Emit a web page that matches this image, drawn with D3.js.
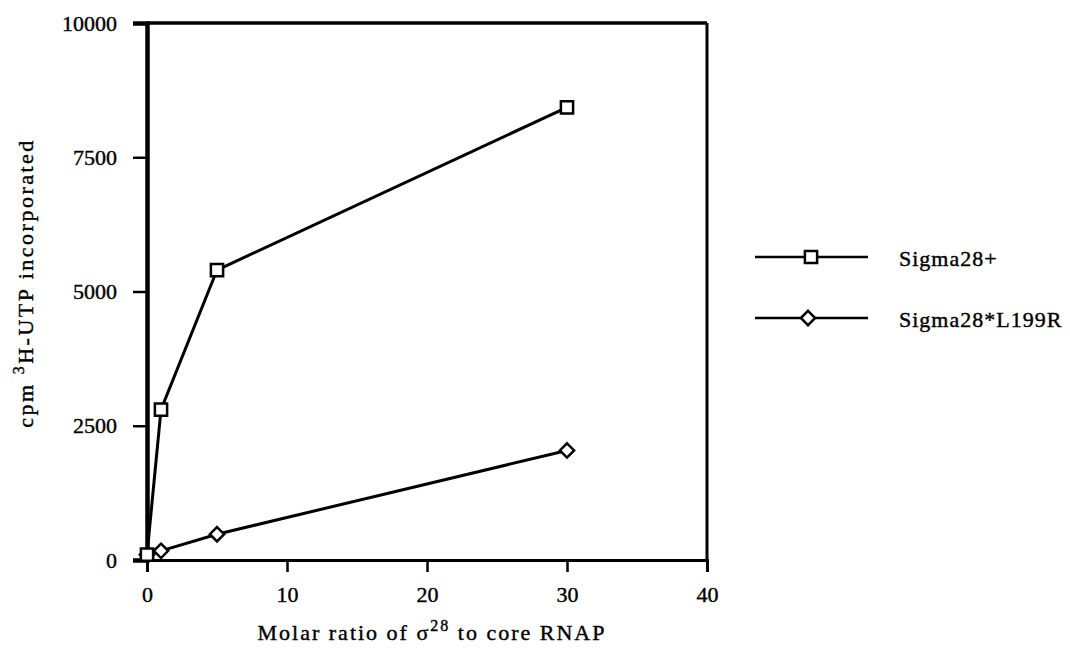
<!DOCTYPE html>
<html lang="en">
<head>
<meta charset="UTF-8">
<title>Sigma28 transcription</title>
<script src="https://cdn.jsdelivr.net/npm/d3@7"></script>
<style>
    body {margin: 0; background: #fff;}
    svg text {font-family: "Liberation Serif", "Times New Roman", serif; fill: #000; stroke: #000; stroke-width: 0.4px;}
</style>
</head>
<body>
<div id="graf"></div>
<script>
    // podatki odčitani s slike
    let ratio = [0, 1, 5, 30];
    let sigmaPlus = [100, 2800, 5400, 8430];
    let sigmaL199R = [100, 170, 480, 2040];
    let xTicks = [0, 10, 20, 30, 40];
    let yTicks = [0, 2500, 5000, 7500, 10000];
    let seriesNames = ["Sigma28+", "Sigma28*L199R"];

    let margin = {top: 23, right: 363, bottom: 90, left: 147},
        width = 1070 - margin.left - margin.right,
        height = 650 - margin.top - margin.bottom;

    let svg = d3.select("#graf")
        .append("svg")
        .attr("width", 1070)
        .attr("height", 650)
        .append("g")
        .attr("transform", "translate(" + margin.left + "," + margin.top + ")");

    let x = d3.scaleLinear().domain([0, 40]).range([0, width]);
    let y = d3.scaleLinear().domain([0, 10000]).range([height, 0]);

    // X os
    let xAxis = svg.append("g")
        .attr("transform", "translate(0," + height + ")")
        .call(d3.axisBottom(x).tickValues(xTicks).tickSize(12).tickPadding(14).tickFormat(d3.format("d")));
    xAxis.select(".domain").attr("stroke-width", 3);
    xAxis.selectAll(".tick line").attr("stroke-width", 2.5);
    xAxis.selectAll("text").attr("font-size", 22).attr("font-family", "Liberation Serif");

    // Y os
    let yAxis = svg.append("g")
        .call(d3.axisLeft(y).tickValues(yTicks).tickSize(14).tickPadding(16).tickFormat(d3.format("d")));
    yAxis.select(".domain").attr("stroke-width", 4.5);
    yAxis.selectAll(".tick line").attr("stroke-width", 2.5);
    yAxis.selectAll("text").attr("font-size", 22).attr("font-family", "Liberation Serif");

    // okvir zgoraj in desno
    svg.append("line")
        .attr("x1", x(0)).attr("x2", x(40))
        .attr("y1", y(10000)).attr("y2", y(10000))
        .attr("stroke", "#000").attr("stroke-width", 3.5);
    svg.append("line")
        .attr("x1", x(40)).attr("x2", x(40))
        .attr("y1", y(10000)).attr("y2", y(0))
        .attr("stroke", "#000").attr("stroke-width", 3);

    let line = d3.line()
        .x(function(d) { return x(d[0]); })
        .y(function(d) { return y(d[1]); });

    let dataPlus = ratio.map(function(r, i) { return [r, sigmaPlus[i]]; });
    let dataL199R = ratio.map(function(r, i) { return [r, sigmaL199R[i]]; });

    svg.append("path").datum(dataL199R)
        .attr("fill", "none").attr("stroke", "#000").attr("stroke-width", 3)
        .attr("d", line);
    svg.append("path").datum(dataPlus)
        .attr("fill", "none").attr("stroke", "#000").attr("stroke-width", 3)
        .attr("d", line);

    let diamond = d3.symbol().type(d3.symbolDiamond2).size(130);
    let square = d3.symbol().type(d3.symbolSquare2).size(190);

    svg.selectAll(".dia").data(dataL199R).enter().append("path")
        .attr("class", "dia")
        .attr("transform", function(d) { return "translate(" + x(d[0]) + "," + y(d[1]) + ")"; })
        .attr("d", diamond)
        .attr("fill", "#fff").attr("stroke", "#000").attr("stroke-width", 2.5);
    svg.selectAll(".sq").data(dataPlus).enter().append("path")
        .attr("class", "sq")
        .attr("transform", function(d) { return "translate(" + x(d[0]) + "," + y(d[1]) + ")"; })
        .attr("d", square)
        .attr("fill", "#fff").attr("stroke", "#000").attr("stroke-width", 2.5);

    // naslovi osi
    let xLabel = svg.append("text")
        .attr("x", 285).attr("y", height + 80)
        .attr("text-anchor", "middle").attr("font-size", 22)
        .style("letter-spacing", "2px");
    xLabel.append("tspan").text("Molar ratio of \u03c3");
    xLabel.append("tspan").attr("dy", -9).attr("font-size", 16).text("28");
    xLabel.append("tspan").attr("dy", 9).text(" to core RNAP");

    let yLabel = svg.append("text")
        .attr("transform", "translate(" + (-114) + "," + y(5160) + ") rotate(-90)")
        .attr("text-anchor", "middle").attr("font-size", 22)
        .style("letter-spacing", "2.5px");
    yLabel.append("tspan").text("cpm ");
    yLabel.append("tspan").attr("dy", -9).attr("font-size", 16).text("3");
    yLabel.append("tspan").attr("dy", 9).text("H-UTP incorporated");

    // legenda
    let legend = svg.append("g").attr("transform", "translate(" + (width + 48) + ",0)");
    let legendSym = [square, diamond];
    seriesNames.forEach(function(name, i) {
        let ly = 234 + i * 61;
        legend.append("line")
            .attr("x1", 0).attr("x2", 113).attr("y1", ly).attr("y2", ly)
            .attr("stroke", "#000").attr("stroke-width", 2.5);
        legend.append("path")
            .attr("transform", "translate(" + (i === 0 ? 56 : 53) + "," + ly + ")")
            .attr("d", legendSym[i])
            .attr("fill", "#fff").attr("stroke", "#000").attr("stroke-width", 2.5);
        legend.append("text")
            .attr("x", 144).attr("y", ly + 9)
            .attr("font-size", 22).style("letter-spacing", "1px").text(name);
    });
</script>
</body>
</html>
